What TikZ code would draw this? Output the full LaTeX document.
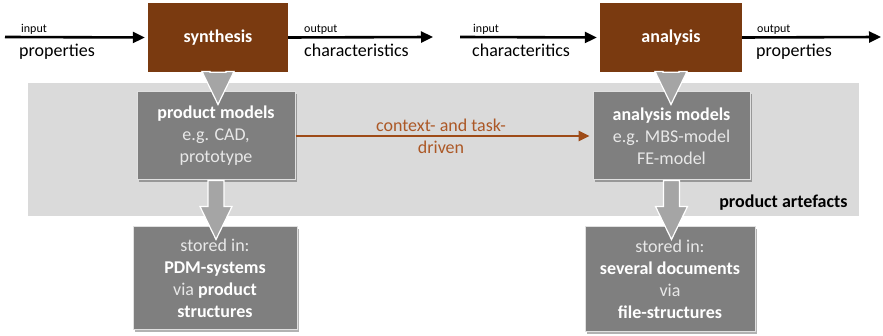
\documentclass[tikz,border=0pt]{standalone}
\usepackage{fontspec}
\setmainfont{Carlito}
\usepackage{xcolor}
\usepackage{tikz}
\usetikzlibrary{arrows.meta,calc,shadows}

\definecolor{procbrown}{RGB}{122,58,16}
\definecolor{linkbrown}{RGB}{158,75,23}
\definecolor{textbrown}{RGB}{172,88,38}
\definecolor{boxgray}{RGB}{127,127,127}
\definecolor{bandgray}{RGB}{218,218,218}
\definecolor{arrowgray}{RGB}{165,165,165}
\definecolor{softwhite}{RGB}{232,232,232}

\newcommand{\blockarrow}[2]{%
    \path (#1.south) coordinate (ba-s) (ba-s |- #2.north) coordinate (ba-e);
    \filldraw[blockarrow] ($(ba-s)+(-8,0)$) -- ($(ba-s)+(8,0)$) -- ($(ba-e)+(8,-20)$)
        -- ($(ba-e)+(16,-20)$) -- ($(ba-e)+(0,13)$) -- ($(ba-e)+(-16,-20)$)
        -- ($(ba-e)+(-8,-20)$) -- cycle;
}

\begin{document}
\begin{tikzpicture}[x=1pt,y=-1pt,
    big/.style={font=\fontsize{18}{22}\selectfont},
    small/.style={font=\fontsize{12}{14}\selectfont},
    process/.style={fill=procbrown,text=white,minimum height=69pt,
        font=\fontsize{18}{22}\selectfont\bfseries},
    artefact/.style={fill=boxgray,draw=white!88!black,line width=1pt,text=softwhite,
        align=center,font=\fontsize{18}{22}\selectfont,
        drop shadow={shadow xshift=2pt,shadow yshift=-2pt,opacity=0.3,fill=black}},
    flow/.style={line width=2.6pt,-{Triangle[length=12pt,width=11pt]},shorten >=3pt},
    link/.style={line width=2.6pt,linkbrown,-{Triangle[length=11pt,width=10pt]},shorten >=3pt},
    blockarrow/.style={fill=arrowgray,draw=white,line width=1.2pt,line join=miter}]
    \useasboundingbox (0,0) rectangle (883,336);

    % background band
    \fill[bandgray] (28,83) rectangle (859,216);
    \node[anchor=east,big,font=\fontsize{18}{22}\selectfont\bfseries] (band) at (851,203) {product artefacts};

    % processes
    \node[process,minimum width=140pt] (syn) at (218,37.5) {synthesis};
    \node[process,minimum width=142pt] (ana) at (671,37.5) {analysis};

    % artefacts
    \node[artefact,minimum width=158pt,minimum height=88pt] (pm) at (216,136)
        {\textcolor{white}{\bfseries product models}\\e.g. CAD,\\prototype};
    \node[artefact,minimum width=157pt,minimum height=88pt] (am) at (671.5,136)
        {\textcolor{white}{\bfseries analysis models}\\e.g. MBS-model\\FE-model};
    \node[artefact,minimum width=164pt,minimum height=103pt] (st1) at (215,278.5)
        {stored in:\\\textcolor{white}{\bfseries PDM-systems}\\via \textcolor{white}{\bfseries product}\\\textcolor{white}{\bfseries structures}};
    \node[artefact,minimum width=170pt,minimum height=105pt] (st2) at (670,279.5)
        {stored in:\\\textcolor{white}{\bfseries several documents}\\via\\\textcolor{white}{\bfseries file-structures}};

    % inputs and outputs
    \coordinate (in1) at (5,37);
    \coordinate (out1) at (433,37);
    \coordinate (in2) at (460,37);
    \coordinate (out2) at (881,37);
    \draw[flow] (in1) -- (syn.west);
    \draw[flow,shorten >=0pt] (syn.east) -- (out1);
    \draw[flow] (in2) -- (ana.west);
    \draw[flow,shorten >=0pt] (ana.east) -- (out2);

    \node[small,anchor=south west,inner sep=1pt] (lin1) at (20,35.5) {input};
    \node[big,anchor=north west,inner sep=1pt] (pin1) at (18,43) {properties};
    \node[small,anchor=south west,inner sep=1pt] (lout1) at (303,35.5) {output};
    \node[big,anchor=north west,inner sep=1pt] (pout1) at (303,43) {characteristics};
    \node[small,anchor=south west,inner sep=1pt] (lin2) at (472,35.5) {input};
    \node[big,anchor=north west,inner sep=1pt] (pin2) at (471,43) {characteritics};
    \node[small,anchor=south west,inner sep=1pt] (lout2) at (756,35.5) {output};
    \node[big,anchor=north west,inner sep=1pt] (pout2) at (755,43) {properties};

    % context- and task-driven link
    \draw[link] (pm.east) -- (am.west);
    \node[big,text=textbrown,align=center] (ctx) at ($(pm.east)!0.49!(am.west)$) {context- and task-\\driven};

    % block arrows
    \blockarrow{syn}{pm}
    \blockarrow{ana}{am}
    \blockarrow{pm}{st1}
    \blockarrow{am}{st2}
\end{tikzpicture}
\end{document}
